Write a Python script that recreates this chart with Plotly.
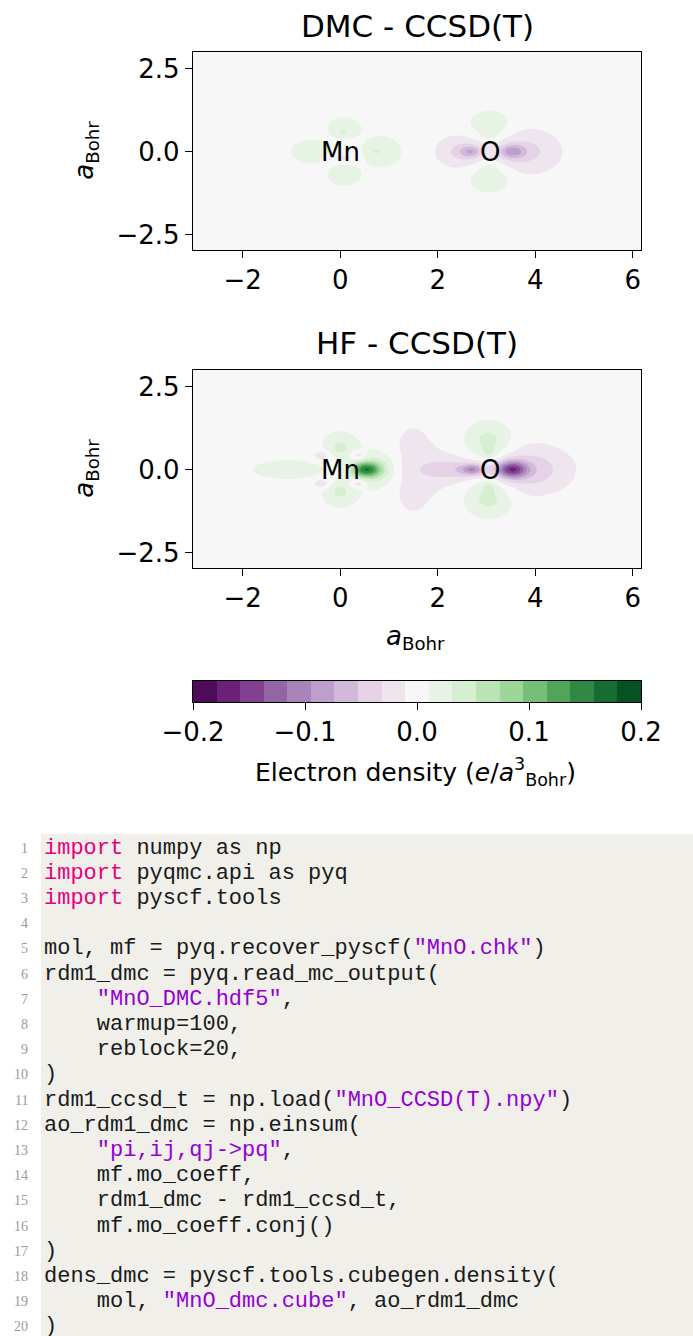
import numpy as np
import plotly.graph_objects as go

W, H = 693, 1336

# ---------------- data ----------------
x_range = [-3.02, 6.17]
y_range = [-2.97, 3.02]
x_ticks = [-2, 0, 2, 4, 6]
y_ticks = [-2.5, 0.0, 2.5]
cb_ticks = [-0.2, -0.1, 0.0, 0.1, 0.2]
n_bands = 19
vmin, vmax = -0.2, 0.2

atom_labels = ["Mn", "O"]
atom_x = [0.0, 3.08]
atom_y = [0.0, 0.0]

titles = ["DMC - CCSD(T)", "HF - CCSD(T)"]

# lobes of the difference densities: centre x, centre y, amplitude, width x, width y
dmc_cx = [-0.62, 0.08, 0.08, 0.85, 0.05, 0.72, 0.05, 2.45, 2.68, 3.85, 3.52, 3.07, 3.07, 3.07, 3.07]
dmc_cy = [0.0, 0.72, -0.72, 0.0, 0.58, 0.0, -0.20, 0.0, 0.0, 0.0, 0.0, 0.83, -0.83, 0.5, -0.5]
dmc_a = [0.024, 0.024, 0.024, 0.026, 0.015, 0.012, -0.02, -0.034, -0.05, -0.036, -0.065, 0.03, 0.03, 0.02, 0.02]
dmc_sx = [0.30, 0.26, 0.26, 0.30, 0.07, 0.08, 0.20, 0.33, 0.16, 0.45, 0.19, 0.29, 0.29, 0.10, 0.10]
dmc_sy = [0.27, 0.24, 0.24, 0.34, 0.07, 0.05, 0.08, 0.33, 0.13, 0.45, 0.15, 0.28, 0.28, 0.10, 0.10]

hf_cx = [0.52, 0.72, -1.08, 0.0, 0.0, 0.0, 0.0, 0.38, 0.38, -0.38, -0.38,
         1.50, 2.20, 2.40, 2.72, 3.90, 3.52, 3.05, 3.05, 3.05, 3.05]
hf_cy = [0.0, 0.0, 0.0, 0.75, -0.75, 0.6, -0.6, 0.42, -0.42, 0.42, -0.42,
         0.0, 0.0, 0.0, 0.0, 0.0, 0.0, 0.85, -0.85, 0.5, -0.5]
hf_a = [0.125, 0.045, 0.02, 0.032, 0.032, 0.015, 0.015, -0.035, -0.035, -0.03, -0.03,
        -0.02, -0.015, -0.032, -0.07, -0.045, -0.13, 0.04, 0.04, 0.02, 0.02]
hf_sx = [0.21, 0.30, 0.62, 0.25, 0.25, 0.08, 0.08, 0.12, 0.12, 0.12, 0.12,
         0.38, 0.40, 0.45, 0.16, 0.55, 0.22, 0.33, 0.33, 0.10, 0.10]
hf_sy = [0.16, 0.38, 0.25, 0.27, 0.27, 0.08, 0.08, 0.10, 0.10, 0.10, 0.10,
         1.10, 0.40, 0.20, 0.12, 0.48, 0.18, 0.40, 0.40, 0.12, 0.12]

code_lines = [
    'import numpy as np',
    'import pyqmc.api as pyq',
    'import pyscf.tools',
    '',
    'mol, mf = pyq.recover_pyscf("MnO.chk")',
    'rdm1_dmc = pyq.read_mc_output(',
    '    "MnO_DMC.hdf5",',
    '    warmup=100,',
    '    reblock=20,',
    ')',
    'rdm1_ccsd_t = np.load("MnO_CCSD(T).npy")',
    'ao_rdm1_dmc = np.einsum(',
    '    "pi,ij,qj->pq",',
    '    mf.mo_coeff,',
    '    rdm1_dmc - rdm1_ccsd_t,',
    '    mf.mo_coeff.conj()',
    ')',
    'dens_dmc = pyscf.tools.cubegen.density(',
    '    mol, "MnO_dmc.cube", ao_rdm1_dmc',
    ')',
]

# ---------------- style ----------------
PRGN = ['#40004b', '#762a83', '#9970ab', '#c2a5cf', '#e7d4e8', '#f7f7f7',
        '#d9f0d3', '#a6dba0', '#5aae61', '#1b7837', '#00441b']
KW_COLOR = '#e6007e'
STR_COLOR = '#9400d3'
FONT = 'DejaVu Sans'
BASE = 26
TITLE = 31


def hex2rgb(h):
    return np.array([int(h[i:i + 2], 16) for i in (1, 3, 5)], float)


def cmap(t):
    pos = t * (len(PRGN) - 1)
    i = min(int(np.floor(pos)), len(PRGN) - 2)
    f = pos - i
    c = hex2rgb(PRGN[i]) * (1 - f) + hex2rgb(PRGN[i + 1]) * f
    return 'rgb(%d,%d,%d)' % tuple(np.round(c))


band_colors = [cmap((j + 0.5) / n_bands) for j in range(n_bands)]
colorscale = [[j / (n_bands - 1), band_colors[j]] for j in range(n_bands)]
levels = np.linspace(vmin, vmax, n_bands + 1)
step = levels[1] - levels[0]
band_centers = (levels[:-1] + levels[1:]) / 2

gx = np.linspace(x_range[0], x_range[1], 400)
gy = np.linspace(y_range[0], y_range[1], 260)
XX, YY = np.meshgrid(gx, gy)


def field(cx, cy, a, sx, sy):
    z = np.zeros_like(XX)
    for x0, y0, a0, s1, s2 in zip(cx, cy, a, sx, sy):
        z += a0 * np.exp(-0.5 * (((XX - x0) / s1) ** 2 + ((YY - y0) / s2) ** 2))
    return z


fields = [field(dmc_cx, dmc_cy, dmc_a, dmc_sx, dmc_sy),
          field(hf_cx, hf_cy, hf_a, hf_sx, hf_sy)]


def px(x):
    return x / W


def py(y):
    return 1 - y / H


def fmt(v, nd):
    s = ('%.' + str(nd) + 'f') % abs(v)
    return '\u2212' + s if v < 0 else s


fig = go.Figure()
axes_ids = [('x', 'y'), ('x2', 'y2')]
for Z, (xa, ya) in zip(fields, axes_ids):
    fig.add_trace(go.Contour(
        x=gx, y=gy, z=Z, xaxis=xa, yaxis=ya,
        colorscale=colorscale, showscale=False, hoverinfo='skip',
        contours=dict(start=levels[1], end=levels[-2], size=step,
                      coloring='fill', showlines=False),
        line=dict(width=0)))

fig.add_trace(go.Heatmap(
    x=band_centers, y=[0], z=[band_centers], xaxis='x3', yaxis='y3',
    colorscale=colorscale, zmin=band_centers[0], zmax=band_centers[-1],
    showscale=False, hoverinfo='skip'))

tickfont = dict(family=FONT, size=BASE, color='black')
common = dict(showline=True, mirror=True, linecolor='black', linewidth=1.4,
              ticks='outside', ticklen=7, tickwidth=1.3, tickcolor='black',
              showgrid=False, zeroline=False, tickfont=tickfont, automargin=False)

xdom = [px(193), px(641)]
panels = [(51.5, 250), (369.5, 568)]
layout = dict(width=W, height=H, margin=dict(l=0, r=0, t=0, b=0, autoexpand=False),
              paper_bgcolor='white', plot_bgcolor='white', showlegend=False)
for k, (top, bot) in enumerate(panels):
    sfx = '' if k == 0 else '2'
    layout['xaxis' + sfx] = dict(domain=xdom, range=x_range, anchor='y' + sfx,
                                 tickvals=x_ticks, ticktext=[fmt(v, 0) for v in x_ticks],
                                 **common)
    layout['yaxis' + sfx] = dict(domain=[py(bot), py(top)], range=y_range, anchor='x' + sfx,
                                 tickvals=y_ticks, ticktext=[fmt(v, 1) for v in y_ticks],
                                 **common)
layout['xaxis3'] = dict(domain=xdom, range=[vmin, vmax], anchor='y3',
                        tickvals=cb_ticks, ticktext=[fmt(v, 1) for v in cb_ticks],
                        **common)
layout['yaxis3'] = dict(domain=[py(702), py(680.5)], range=[-0.5, 0.5], anchor='x3',
                        showline=True, mirror=True, linecolor='black', linewidth=1.4,
                        showticklabels=False, ticks='', showgrid=False, zeroline=False,
                        automargin=False)
fig.update_layout(**layout)

ann = []
# titles
for t, (top, bot) in zip(titles, panels):
    ann.append(dict(text=t, x=px(417), y=py(top - 26), xref='paper', yref='paper',
                    showarrow=False, xanchor='center', yanchor='middle',
                    font=dict(family=FONT, size=TITLE, color='black')))
# atom labels
for xa, ya in axes_ids:
    for lab, ax_, ay_ in zip(atom_labels, atom_x, atom_y):
        ann.append(dict(text=lab, x=ax_, y=ay_, xref=xa, yref=ya, showarrow=False,
                        xanchor='center', yanchor='middle',
                        font=dict(family=FONT, size=BASE, color='black')))
# axis labels
ab = '<i>a</i><sub>Bohr</sub>'
for top, bot in panels:
    ann.append(dict(text=ab, x=px(86), y=py((top + bot) / 2), xref='paper', yref='paper',
                    showarrow=False, textangle=-90, xanchor='center', yanchor='middle',
                    font=dict(family=FONT, size=BASE, color='black')))
ann.append(dict(text=ab, x=px(415), y=py(637), xref='paper', yref='paper',
                showarrow=False, xanchor='center', yanchor='middle',
                font=dict(family=FONT, size=BASE, color='black')))
ann.append(dict(text='Electron density (<i>e</i>/<i>a</i><sup>3</sup><sub>Bohr</sub>)',
                x=px(415), y=py(772), xref='paper', yref='paper',
                showarrow=False, xanchor='center', yanchor='middle',
                font=dict(family=FONT, size=BASE - 1, color='black')))


def highlight(line):
    out = ''
    rest = line
    if rest.startswith('import '):
        out += '<span style="color:%s">import</span>' % KW_COLOR
        rest = rest[len('import'):]
    parts = rest.split('"')
    for i, p in enumerate(parts):
        p = p.replace('&', '&amp;').replace('>', '&gt;').replace('<', '&lt;').replace(' ', '\u00a0')
        if i % 2 == 1:
            out += '<span style="color:%s">"%s"</span>' % (STR_COLOR, p)
        else:
            out += p
    return out


for i, line in enumerate(code_lines):
    yc = 848 + i * 25.2
    ann.append(dict(text=str(i + 1), x=px(30), y=py(yc), xref='paper', yref='paper',
                    showarrow=False, xanchor='right', yanchor='middle',
                    font=dict(family='Liberation Serif', size=14, color='#999999')))
    if line:
        ann.append(dict(text=highlight(line), x=px(42), y=py(yc), xref='paper', yref='paper',
                        showarrow=False, xanchor='left', yanchor='middle',
                        font=dict(family='Liberation Mono', size=22, color='#1a1a1a')))

fig.update_layout(annotations=ann, shapes=[dict(
    type='rect', xref='paper', yref='paper', x0=px(41), x1=1, y0=0, y1=py(834),
    fillcolor='#f0efe9', line=dict(width=0), layer='below')])

fig.write_html('out.html', config={'responsive': False, 'displayModeBar': False},
               post_script="document.body.style.margin='0';document.body.style.overflow='hidden';")
